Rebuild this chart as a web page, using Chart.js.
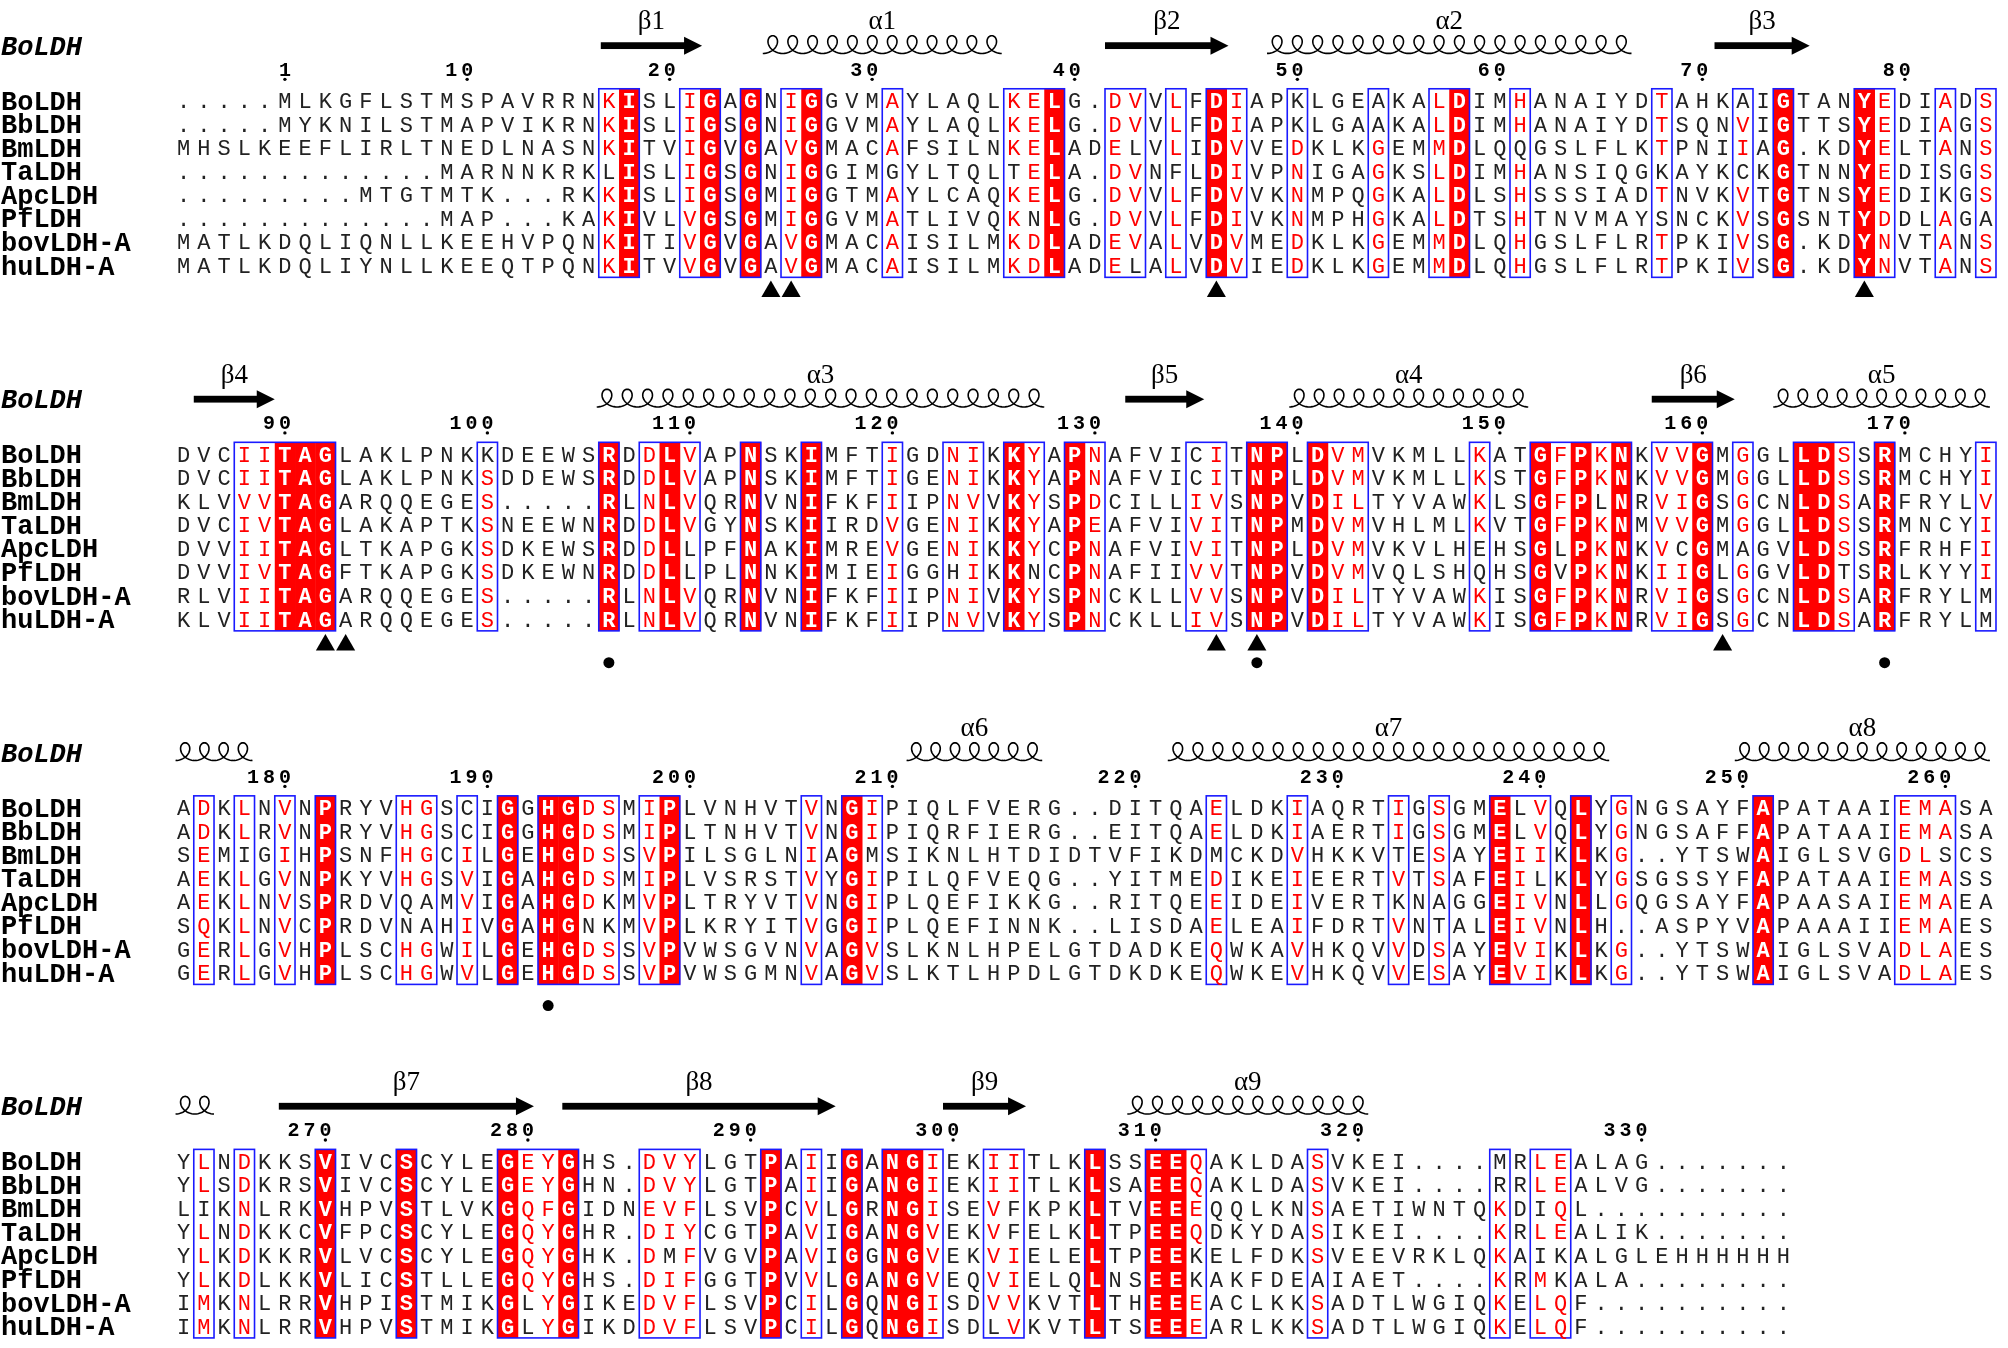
<!DOCTYPE html>
<html>
<head>
<meta charset="utf-8">
<script src="https://cdn.jsdelivr.net/npm/chart.js@4.4.0/dist/chart.umd.min.js"></script>
<style>
  html, body { margin: 0; padding: 0; background: #fff; overflow: hidden; }
</style>
</head>
<body>
<canvas id="myChart" width="2008" height="1348" style="width:2008px;height:1348px"></canvas>
<script>
// sequence names, top to bottom
const names = ['BoLDH', 'BbLDH', 'BmLDH', 'TaLDH', 'ApcLDH', 'PfLDH', 'bovLDH-A', 'huLDH-A'];
const refName = 'BoLDH';

// alignment, block by block
const seqBlock1 = [
  '.....MLKGFLSTMSPAVRRNKISLIGAGNIGGVMAYLAQLKELG.DVVLFDIAPKLGEAKALDIMHANAIYDTAHKAIGTANYEDIADS',
  '.....MYKNILSTMAPVIKRNKISLIGSGNIGGVMAYLAQLKELG.DVVLFDIAPKLGAAKALDIMHANAIYDTSQNVIGTTSYEDIAGS',
  'MHSLKEEFLIRLTNEDLNASNKITVIGVGAVGMACAFSILNKELADELVLIDVVEDKLKGEMMDLQQGSLFLKTPNIIAG.KDYELTANS',
  '.............MARNNKRKLISLIGSGNIGGIMGYLTQLTELA.DVNFLDIVPNIGAGKSLDIMHANSIQGKAYKCKGTNNYEDISGS',
  '.........MTGTMTK...RKKISLIGSGMIGGTMAYLCAQKELG.DVVLFDVVKNMPQGKALDLSHSSSIADTNVKVTGTNSYEDIKGS',
  '.............MAP...KAKIVLVGSGMIGGVMATLIVQKNLG.DVVLFDIVKNMPHGKALDTSHTNVMAYSNCKVSGSNTYDDLAGA',
  'MATLKDQLIQNLLKEEHVPQNKITIVGVGAVGMACAISILMKDLADEVALVDVMEDKLKGEMMDLQHGSLFLRTPKIVSG.KDYNVTANS',
  'MATLKDQLIYNLLKEEQTPQNKITVVGVGAVGMACAISILMKDLADELALVDVIEDKLKGEMMDLQHGSLFLRTPKIVSG.KDYNVTANS'
];
const seqBlock2 = [
  'DVCIITAGLAKLPNKKDEEWSRDDLVAPNSKIMFTIGDNIKKYAPNAFVICITNPLDVMVKMLLKATGFPKNKVVGMGGLLDSSRMCHYI',
  'DVCIITAGLAKLPNKSDDEWSRDDLVAPNSKIMFTIGENIKKYAPNAFVICITNPLDVMVKMLLKSTGFPKNKVVGMGGLLDSSRMCHYI',
  'KLVVVTAGARQQEGES.....RLNLVQRNVNIFKFIIPNVVKYSPDCILLIVSNPVDILTYVAWKLSGFPLNRVIGSGCNLDSARFRYLV',
  'DVCIVTAGLAKAPTKSNEEWNRDDLVGYNSKIIRDVGENIKKYAPEAFVIVITNPMDVMVHLMLKVTGFPKNMVVGMGGLLDSSRMNCYI',
  'DVVIITAGLTKAPGKSDKEWSRDDLLPFNAKIMREVGENIKKYCPNAFVIVITNPLDVMVKVLHEHSGLPKNKVCGMAGVLDSSRFRHFI',
  'DVVIVTAGFTKAPGKSDKEWNRDDLLPLNNKIMIEIGGHIKKNCPNAFIIVVTNPVDVMVQLSHQHSGVPKNKIIGLGGVLDTSRLKYYI',
  'RLVIITAGARQQEGES.....RLNLVQRNVNIFKFIIPNIVKYSPNCKLLVVSNPVDILTYVAWKISGFPKNRVIGSGCNLDSARFRYLM',
  'KLVIITAGARQQEGES.....RLNLVQRNVNIFKFIIPNVVKYSPNCKLLIVSNPVDILTYVAWKISGFPKNRVIGSGCNLDSARFRYLM'
];
const seqBlock3 = [
  'ADKLNVNPRYVHGSCIGGHGDSMIPLVNHVTVNGIPIQLFVERG..DITQAELDKIAQRTIGSGMELVQLYGNGSAYFAPATAAIEMASA',
  'ADKLRVNPRYVHGSCIGGHGDSMIPLTNHVTVNGIPIQRFIERG..EITQAELDKIAERTIGSGMELVQLYGNGSAFFAPATAAIEMASA',
  'SEMIGIHPSNFHGCILGEHGDSSVPILSGLNIAGMSIKNLHTDIDTVFIKDMCKDVHKKVTESAYEIIKLKG..YTSWAIGLSVGDLSCS',
  'AEKLGVNPKYVHGSVIGAHGDSMIPLVSRSTVYGIPILQFVEQG..YITMEDIKEIEERTVTSAFEILKLYGSGSSYFAPATAAIEMASS',
  'AEKLNVSPRDVQAMVIGAHGDKMVPLTRYVTVNGIPLQEFIKKG..RITQEEIDEIVERTKNAGGEIVNLLGQGSAYFAPAASAIEMAEA',
  'SQKLNVCPRDVNAHIVGAHGNKMVPLKRYITVGGIPLQEFINNK..LISDAELEAIFDRTVNTALEIVNLH..ASPYVAPAAAIIEMAES',
  'GERLGVHPLSCHGWILGEHGDSSVPVWSGVNVAGVSLKNLHPELGTDADKEQWKAVHKQVVDSAYEVIKLKG..YTSWAIGLSVADLAES',
  'GERLGVHPLSCHGWVLGEHGDSSVPVWSGMNVAGVSLKTLHPDLGTDKDKEQWKEVHKQVVESAYEVIKLKG..YTSWAIGLSVADLAES'
];
const seqBlock4 = [
  'YLNDKKSVIVCSCYLEGEYGHS.DVYLGTPAIIGANGIEKIITLKLSSEEQAKLDASVKEI....MRLEALAG.......',
  'YLSDKRSVIVCSCYLEGEYGHN.DVYLGTPAIIGANGIEKIITLKLSAEEQAKLDASVKEI....RRLEALVG.......',
  'LIKNLRKVHPVSTLVKGQFGIDNEVFLSVPCVLGRNGISEVFKPKLTVEEEQQLKNSAETIWNTQKDIQL..........',
  'YLNDKKCVFPCSCYLEGQYGHR.DIYCGTPAVIGANGVEKVFELKLTPEEQDKYDASIKEI....KRLEALIK.......',
  'YLKDKKRVLVCSCYLEGQYGHK.DMFVGVPAVIGGNGVEKVIELELTPEEKELFDKSVEEVRKLQKAIKALGLEHHHHHH',
  'YLKDLKKVLICSTLLEGQYGHS.DIFGGTPVVLGANGVEQVIELQLNSEEKAKFDEAIAET....KRMKALA........',
  'IMKNLRRVHPISTMIKGLYGIKEDVFLSVPCILGQNGISDVVKVTLTHEEEACLKKSADTLWGIQKELQF..........',
  'IMKNLRRVHPVSTMIKGLYGIKDDVFLSVPCILGQNGISDLVKVTLTSEEEARLKKSADTLWGIQKELQF..........'
];

// strictly conserved columns (red fill)
const fills1 = [23, 27, 29, 32, 44, 52, 64, 80, 84];
const fills2 = [6, 7, 8, 22, 25, 29, 32, 42, 45, 54, 55, 57, 68, 70, 72, 76, 81, 82, 85];
const fills3 = [8, 17, 19, 20, 25, 34, 66, 70, 79];
const fills4 = [8, 12, 17, 20, 30, 34, 36, 37, 46, 49, 50];

// similarity boxes [first column, last column]
const boxes1 = [[22, 23], [26, 27], [29, 29], [31, 32], [36, 36], [42, 44], [47, 48], [50, 50], [52, 53], [56, 56],
  [60, 60], [63, 64], [67, 67], [74, 74], [78, 78], [80, 80], [84, 85], [88, 88], [90, 90]];
const boxes2 = [[4, 8], [16, 16], [22, 22], [24, 26], [29, 29], [32, 32], [36, 36], [39, 40], [42, 43], [45, 46],
  [51, 52], [54, 55], [57, 59], [65, 65], [68, 72], [74, 76], [78, 78], [81, 83], [85, 85], [90, 90]];
const boxes3 = [[2, 2], [4, 4], [6, 6], [8, 8], [12, 13], [15, 15], [17, 17], [19, 22], [24, 25], [32, 32], [34, 35],
  [52, 52], [56, 56], [61, 61], [63, 63], [66, 68], [70, 70], [72, 72], [79, 79], [86, 88]];
const boxes4 = [[2, 2], [4, 4], [8, 8], [12, 12], [17, 20], [24, 26], [30, 30], [32, 32], [34, 34], [36, 38],
  [41, 42], [46, 46], [49, 51], [57, 57], [66, 66], [68, 69]];

// residues inside a box that stay black: [column, sequence indexes]
const black1 = [[22, [3]], [36, [3]], [42, [3]], [43, [5]], [48, [2, 7]], [50, [3]], [56, [0, 1]], [60, [0, 1]],
  [67, [2]], [74, [3, 5]], [78, [0, 3]], [88, [3, 4]], [90, [5]]];
const black2 = [[16, [0]], [26, [4, 5]], [39, [5]], [43, [5]], [51, [0, 1]], [65, [4, 5]], [69, [4, 5]], [71, [2]],
  [75, [4]], [78, [4]], [83, [5]], [90, [6, 7]]];
const black3 = [[4, [2]], [12, [4, 5]], [13, [4, 5]], [15, [0, 1]], [21, [5]], [22, [4, 5]], [35, [2]], [52, [2]],
  [61, [2, 4]], [63, [4, 5]], [67, [0, 1]], [68, [3]], [88, [2]]];
const black4 = [[2, [2]], [18, [6, 7]], [25, [4]], [41, [7]], [42, [2, 3]], [51, [4, 5]], [57, [5]], [66, [0, 1]],
  [68, [2, 4]], [69, [4, 5]]];

// residue numbering of BoLDH above each block
const tickCols1 = [6, 15, 25, 35, 45, 56, 66, 76, 86];
const tickLabels1 = ['1', '10', '20', '30', '40', '50', '60', '70', '80'];
const tickCols2 = [6, 16, 26, 36, 46, 56, 66, 76, 86];
const tickLabels2 = ['90', '100', '110', '120', '130', '140', '150', '160', '170'];
const tickCols3 = [6, 16, 26, 36, 48, 58, 68, 78, 88];
const tickLabels3 = ['180', '190', '200', '210', '220', '230', '240', '250', '260'];
const tickCols4 = [8, 18, 29, 39, 49, 59, 73];
const tickLabels4 = ['270', '280', '290', '300', '310', '320', '330'];

// secondary structure of BoLDH: [kind, label, from column, to column]
const struct1 = [['b', 'β1', 21.6, 26.6], ['a', 'α1', 29.6, 41.4], ['b', 'β2', 46.5, 52.6], ['a', 'α2', 54.5, 72.5], ['b', 'β3', 76.6, 81.3]];
const struct2 = [['b', 'β4', 1.5, 5.5], ['a', 'α3', 21.4, 43.5], ['b', 'β5', 47.5, 51.4], ['a', 'α4', 55.6, 67.4], ['b', 'β6', 73.5, 77.6], ['a', 'α5', 79.5, 90.2]];
const struct3 = [['a', '', 0.6, 4.4], ['a', 'α6', 36.7, 43.4], ['a', 'α7', 49.6, 71.4], ['a', 'α8', 77.6, 90.2]];
const struct4 = [['a', '', 0.6, 2.5], ['b', 'β7', 5.7, 18.3], ['b', 'β8', 19.7, 33.2], ['b', 'β9', 38.5, 42.6], ['a', 'α9', 47.6, 59.5]];

// marks under the alignment
const triangles1 = [30, 31, 52, 84];
const triangles2 = [8, 9, 52, 54, 77];
const triangles3 = [];
const triangles4 = [];
const dots1 = [];
const dots2 = [22, 54, 85];
const dots3 = [19];
const dots4 = [];

const blocks = [
  { seqs: seqBlock1, fills: fills1, boxes: boxes1, black: black1, tickCols: tickCols1, tickLabels: tickLabels1, ss: struct1, tri: triangles1, dots: dots1 },
  { seqs: seqBlock2, fills: fills2, boxes: boxes2, black: black2, tickCols: tickCols2, tickLabels: tickLabels2, ss: struct2, tri: triangles2, dots: dots2 },
  { seqs: seqBlock3, fills: fills3, boxes: boxes3, black: black3, tickCols: tickCols3, tickLabels: tickLabels3, ss: struct3, tri: triangles3, dots: dots3 },
  { seqs: seqBlock4, fills: fills4, boxes: boxes4, black: black4, tickCols: tickCols4, tickLabels: tickLabels4, ss: struct4, tri: triangles4, dots: dots4 }
];

// y is measured in alignment rows, x in alignment columns
const firstRow = 3.8;
const blockStep = 15;
function rowValue(bi, r) { return firstRow + blockStep * bi + r; }

const RED = '#ff0000';
const BLUE = '#1a1aff';

const alignmentPlugin = {
  id: 'alignment',
  beforeDatasetsDraw(chart) {
    const ctx = chart.ctx;
    const x = chart.scales.x;
    const y = chart.scales.y;

    ctx.save();
    ctx.font = '22px "Liberation Mono"';
    const capH = ctx.measureText('H').actualBoundingBoxAscent;

    blocks.forEach((b, bi) => {
      const top = y.getPixelForValue(rowValue(bi, -0.5));
      const bottom = y.getPixelForValue(rowValue(bi, 7.5));

      // red fills
      ctx.fillStyle = RED;
      b.fills.forEach(c => {
        const l = x.getPixelForValue(c - 0.5);
        const r = x.getPixelForValue(c + 0.5);
        ctx.fillRect(l, top, r - l + 0.5, bottom - top);
      });

      // blue frames
      ctx.strokeStyle = BLUE;
      ctx.lineWidth = 1.6;
      b.boxes.forEach(([s, e]) => {
        const l = x.getPixelForValue(s - 0.5);
        const r = x.getPixelForValue(e + 0.5);
        ctx.strokeRect(l, top, r - l, bottom - top);
      });

      // residues
      const boxed = new Set();
      b.boxes.forEach(([s, e]) => { for (let c = s; c <= e; c++) boxed.add(c); });
      const blackAt = {};
      b.black.forEach(([c, rows]) => { blackAt[c] = rows; });
      ctx.textAlign = 'center';
      ctx.textBaseline = 'alphabetic';
      b.seqs.forEach((seq, r) => {
        const py = y.getPixelForValue(rowValue(bi, r)) + capH / 2;
        for (let i = 0; i < seq.length; i++) {
          const c = i + 1;
          const ch = seq[i];
          const px = x.getPixelForValue(c);
          if (b.fills.includes(c)) {
            ctx.font = 'bold 22px "Liberation Mono"';
            ctx.fillStyle = '#ffffff';
          } else if (boxed.has(c) && ch !== '.' && !(blackAt[c] || []).includes(r)) {
            ctx.font = '22px "Liberation Mono"';
            ctx.fillStyle = RED;
          } else {
            ctx.font = '22px "Liberation Mono"';
            ctx.fillStyle = '#222222';
          }
          ctx.fillText(ch, px, py);
        }
        // sequence name
        ctx.font = 'bold 27px "Liberation Mono"';
        ctx.fillStyle = '#000000';
        ctx.textAlign = 'left';
        ctx.fillText(names[r], 1, py + 1.5);
        ctx.textAlign = 'center';
      });

      // reference name
      ctx.font = 'italic bold 27px "Liberation Mono"';
      ctx.textAlign = 'left';
      ctx.fillStyle = '#000000';
      ctx.fillText(refName, 1, y.getPixelForValue(rowValue(bi, -2.33)) + capH / 2 + 1.5);
      ctx.textAlign = 'center';

      // numbering
      ctx.font = 'bold 20px "Liberation Mono"';
      const numY = y.getPixelForValue(rowValue(bi, -1.37)) + capH / 2;
      b.tickCols.forEach((c, k) => {
        const label = b.tickLabels[k];
        const px = x.getPixelForValue(c);
        for (let d = 0; d < label.length; d++) {
          ctx.fillText(label[d], px - (label.length - 1 - d) * 16, numY);
        }
        ctx.beginPath();
        ctx.arc(px, y.getPixelForValue(rowValue(bi, -0.9)), 1.7, 0, Math.PI * 2);
        ctx.fill();
      });

      // secondary structure
      b.ss.forEach(([kind, label, from, to]) => {
        const x1 = x.getPixelForValue(from);
        const x2 = x.getPixelForValue(to);
        ctx.fillStyle = '#000000';
        ctx.strokeStyle = '#000000';
        if (kind === 'b') {
          const yc = y.getPixelForValue(rowValue(bi, -2.33));
          const head = 18;
          ctx.fillRect(x1, yc - 3.4, x2 - x1 - head + 1, 6.8);
          ctx.beginPath();
          ctx.moveTo(x2 - head, yc - 9);
          ctx.lineTo(x2, yc);
          ctx.lineTo(x2 - head, yc + 9);
          ctx.closePath();
          ctx.fill();
        } else {
          const yb = y.getPixelForValue(rowValue(bi, -2.0));
          const h = y.getPixelForValue(rowValue(bi, -2.0)) - y.getPixelForValue(rowValue(bi, -2.75));
          const n = Math.max(1, Math.round(to - from));
          const a = (x2 - x1) / (2 * Math.PI * n);
          const bb = a * 2.9;
          ctx.lineWidth = 1.6;
          ctx.beginPath();
          const steps = n * 48;
          for (let s = 0; s <= steps; s++) {
            const t = Math.PI + (2 * Math.PI * n) * s / steps;
            const px = x1 + a * (t - Math.PI) - bb * Math.sin(t);
            const py = yb - h * (1 + Math.cos(t)) / 2;
            if (s === 0) ctx.moveTo(px, py); else ctx.lineTo(px, py);
          }
          ctx.stroke();
        }
        if (label) {
          ctx.font = '27px "Liberation Serif"';
          ctx.textBaseline = 'middle';
          ctx.fillText(label, (x1 + x2) / 2, y.getPixelForValue(rowValue(bi, -3.33)));
          ctx.textBaseline = 'alphabetic';
        }
      });
    });
    ctx.restore();
  }
};

const trianglePoints = [];
const dotPoints = [];
blocks.forEach((b, bi) => {
  b.tri.forEach(c => trianglePoints.push({ x: c, y: rowValue(bi, 8.1) }));
  const dotLevel = b.tri.length ? 8.85 : 8.4;
  b.dots.forEach(c => dotPoints.push({ x: c, y: rowValue(bi, dotLevel) }));
});

const config = {
  type: 'scatter',
  data: {
    datasets: [{
      label: 'triangles',
      data: trianglePoints,
      pointStyle: 'triangle',
      pointRadius: 11,
      backgroundColor: '#000000',
      borderWidth: 0
    }, {
      label: 'dots',
      data: dotPoints,
      pointStyle: 'circle',
      pointRadius: 5.5,
      backgroundColor: '#000000',
      borderWidth: 0
    }]
  },
  options: {
    responsive: false,
    animation: false,
    layout: { padding: 0 },
    plugins: { legend: { display: false }, tooltip: { enabled: false } },
    scales: {
      x: { type: 'linear', display: false, min: -7.526, max: 90.55 },
      y: { type: 'linear', display: false, min: 0, max: 1348 / 23.96, reverse: true }
    }
  },
  plugins: [alignmentPlugin]
};

const myChart = new Chart(document.getElementById('myChart'), config);
</script>
</body>
</html>
